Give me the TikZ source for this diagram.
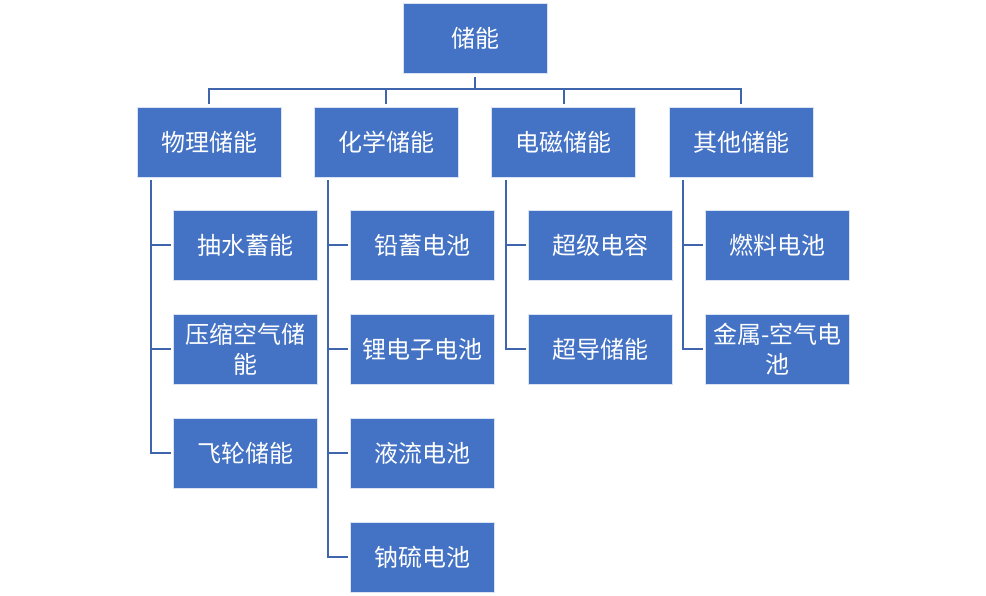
\documentclass[tikz,border=0pt]{standalone}
\usepackage{fontspec}
\setmainfont{Noto Sans CJK SC}
\usetikzlibrary{positioning}
\definecolor{boxblue}{HTML}{4472C4}
\definecolor{lineblue}{HTML}{3F65AC}
\tikzset{blockbox/.style={draw=white!80!boxblue, line width=0.75pt, fill=boxblue, text=white,
    minimum width=108pt, minimum height=52.5pt, inner sep=0pt, align=center,
    font=\fontsize{18}{22.5}\selectfont},
  link/.style={draw=lineblue, line width=1.5pt}}

\begin{document}
\begin{tikzpicture}[x=0.75pt,y=0.75pt,yscale=-1,xscale=1]
\useasboundingbox (0,0) rectangle (986,596);

% Root
\node [blockbox] (root) at (475,38) {储能};
% Level one
\node [blockbox] (phys) at (209,142) {物理储能};
\node [blockbox] (chem) at (386,142) {化学储能};
\node [blockbox] (emag) at (563.5,142) {电磁储能};
\node [blockbox] (other) at (741,142) {其他储能};
% Physical
\node [blockbox] (pump) at (245.5,245) {抽水蓄能};
\node [blockbox] (caes) at (245.5,349) {压缩空气储\\能};
\node [blockbox] (flywheel) at (245.5,453) {飞轮储能};
% Chemical
\node [blockbox] (lead) at (422.5,245) {铅蓄电池};
\node [blockbox] (lithium) at (422.5,349) {锂电子电池};
\node [blockbox] (flow) at (422.5,453) {液流电池};
\node [blockbox] (nas) at (422.5,557) {钠硫电池};
% Electromagnetic
\node [blockbox] (supercap) at (600,245) {超级电容};
\node [blockbox] (smes) at (600,349) {超导储能};
% Other
\node [blockbox] (fuelcell) at (777.5,245) {燃料电池};
\node [blockbox] (metalair) at (777.5,349) {金属-空气电\\池};

% Bus under root
\coordinate (bus) at (475,89);
\draw [link, shorten <=2.25pt] (root) -- (bus);
\draw [link, shorten >=2.25pt] (bus) -| (phys);
\draw [link, shorten >=2.25pt] (bus) -| (chem);
\draw [link, shorten >=2.25pt] (bus) -| (emag);
\draw [link, shorten >=2.25pt] (bus) -| (other);

% Drops under level one
\coordinate (physdrop) at (151,180);
\coordinate (chemdrop) at (328,180);
\coordinate (emagdrop) at (505.5,180);
\coordinate (otherdrop) at (683,180);
\draw [link, shorten >=1.5pt] (physdrop) |- (pump);
\draw [link, shorten >=1.5pt] (physdrop) |- (caes);
\draw [link, shorten >=1.5pt] (physdrop) |- (flywheel);
\draw [link, shorten >=1.5pt] (chemdrop) |- (lead);
\draw [link, shorten >=1.5pt] (chemdrop) |- (lithium);
\draw [link, shorten >=1.5pt] (chemdrop) |- (flow);
\draw [link, shorten >=1.5pt] (chemdrop) |- (nas);
\draw [link, shorten >=1.5pt] (emagdrop) |- (supercap);
\draw [link, shorten >=1.5pt] (emagdrop) |- (smes);
\draw [link, shorten >=1.5pt] (otherdrop) |- (fuelcell);
\draw [link, shorten >=1.5pt] (otherdrop) |- (metalair);

\end{tikzpicture}
\end{document}
